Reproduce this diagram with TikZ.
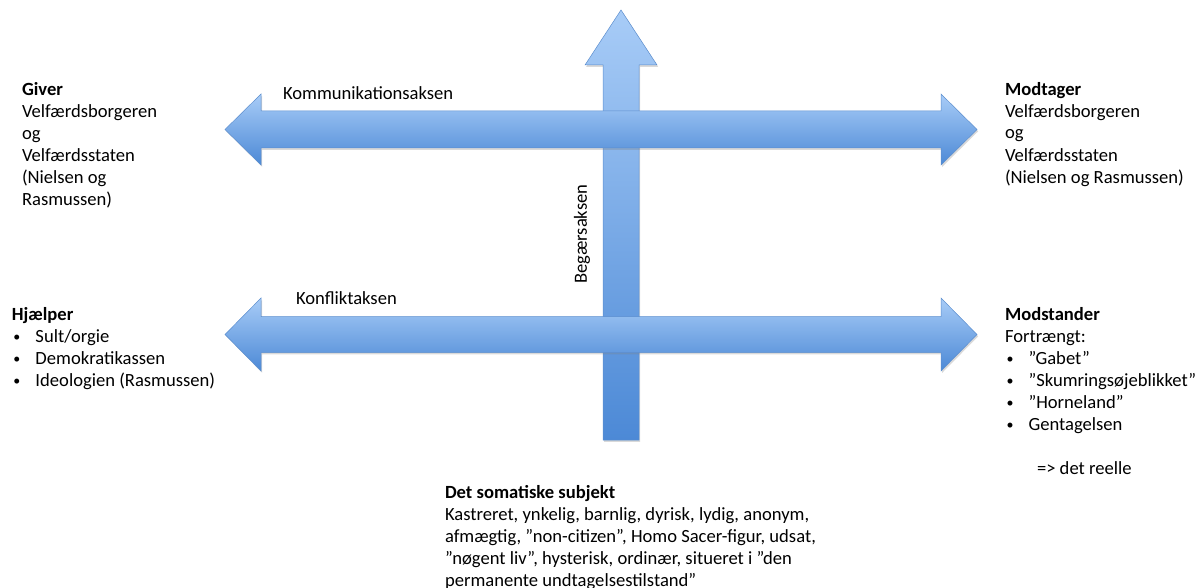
\documentclass[tikz,border=0pt]{standalone}
\usepackage{fontspec}
\setmainfont{Carlito}
\usetikzlibrary{shadows}
\definecolor{arrtop}{RGB}{168,204,247}
\definecolor{arrbot}{RGB}{76,137,214}
\definecolor{arrline}{RGB}{92,142,206}
\tikzset{
  bigarrow/.style={top color=arrtop, bottom color=arrbot, draw=arrline, line width=0.5pt,
    drop shadow={shadow xshift=1.2pt, shadow yshift=-1.8pt, opacity=0.3}},
  txt/.style={inner sep=0pt, outer sep=0pt, align=left, font=\fontsize{18.6}{22}\selectfont},
  blk/.style={txt, anchor=north west},
  one/.style={txt, anchor=base west}
}
\newcommand{\fst}{\rule{0pt}{14pt}}
\newcommand{\bul}[1]{\makebox[23.5pt][l]{\hspace{1.5pt}\raisebox{1pt}{\fontsize{14}{14}\selectfont\textbullet}}#1}
\begin{document}
\begin{tikzpicture}[x=1pt,y=-1pt]
\useasboundingbox (0,0) rectangle (1198,588);
% vertical arrow (Begaersaksen)
\path[bigarrow] (621,10) -- (657,65) -- (639,65) -- (639,440) -- (603,440) -- (603,65) -- (585,65) -- cycle;
% horizontal arrows
\path[bigarrow] (225,129.5) -- (261,94) -- (261,111) -- (941,111) -- (941,94) -- (977,129.5)
   -- (941,165) -- (941,148) -- (261,148) -- (261,165) -- cycle;
\path[bigarrow] (225,334.5) -- (261,298) -- (261,316.5) -- (941,316.5) -- (941,298) -- (977,334.5)
   -- (941,371) -- (941,352.5) -- (261,352.5) -- (261,371) -- cycle;
% axis labels
\node[one] (komm) at (283,99.5) {Kommunikationsaksen};
\node[one] (konf) at (296,304) {Konfliktaksen};
\node[txt, rotate=90] (beg) at (582,234) {Begærsaksen};
% actants
\node[blk] (giver) at (22,81) {\fst\textbf{Giver}\\Velfærdsborgeren\\og\\Velfærdsstaten\\(Nielsen og\\Rasmussen)};
\node[blk] (modt) at (1005,81) {\fst\textbf{Modtager}\\Velfærdsborgeren\\og\\Velfærdsstaten\\(Nielsen og Rasmussen)};
\node[blk] (hjael) at (12,306) {\fst\textbf{Hjælper}\\\bul{Sult/orgie}\\\bul{Demokratikassen}\\\bul{Ideologien (Rasmussen)}};
\node[blk] (modst) at (1005,306) {\fst\textbf{Modstander}\\Fortrængt:\\\bul{”Gabet”}\\\bul{”Skumringsøjeblikket”}\\\bul{”Horneland”}\\\bul{Gentagelsen}\\\mbox{}\\\hspace{32pt}=> det reelle};
\node[blk] (subj) at (445,484) {\fst\textbf{Det somatiske subjekt}\\Kastreret, ynkelig, barnlig, dyrisk, lydig, anonym,\\afmægtig, ”non-citizen”, Homo Sacer-figur, udsat,\\”nøgent liv”, hysterisk, ordinær, situeret i ”den\\permanente undtagelsestilstand”};
\end{tikzpicture}
\end{document}
